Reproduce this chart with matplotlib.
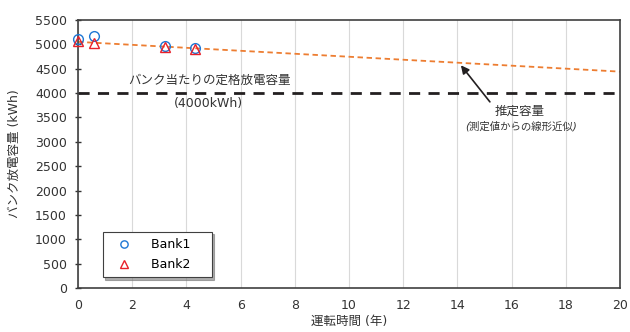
import numpy as np
import matplotlib.pyplot as plt

plt.rcParams['font.family'] = ['DejaVu Sans', 'Noto Sans CJK JP']

# measured capacity per bank
years_b1 = [0.0, 0.6, 3.2, 4.3]
cap_b1 = [5110, 5170, 4970, 4930]
years_b2 = [0.0, 0.6, 3.2, 4.3]
cap_b2 = [5075, 5020, 4940, 4905]

# linear estimate (intercept, slope per year)
fit_intercept = 5050
fit_slope = -30.5
fit_years = [0, 20]

rated_capacity = 4000

fig = plt.figure(figsize=(6.3, 3.32), dpi=100)
ax = fig.add_axes([0.124, 0.132, 0.86, 0.808])

fit_x = np.array(fit_years, dtype=float)
ax.plot(fit_x, fit_intercept + fit_slope * fit_x, ls=(0, (3, 2)), color='#ED7D31',
        lw=1.3, zorder=2)
ax.axhline(rated_capacity, color='#231f20', lw=2, ls=(0, (4, 3)), zorder=2)

ax.plot(years_b1, cap_b1, 'o', mfc='none', mec='#1f77d4', ms=7, mew=1.0,
        label='Bank1', zorder=3, clip_on=False)
ax.plot(years_b2, cap_b2, '^', mfc='none', mec='#e8202a', ms=7, mew=1.0,
        label='Bank2', zorder=3, clip_on=False)

ax.set_xlim(0, 20)
ax.set_ylim(0, 5500)
ax.set_xticks(range(0, 21, 2))
ax.set_yticks(range(0, 5501, 500))
ax.grid(axis='x', color='#d9d9d9', lw=0.8)
ax.set_axisbelow(True)
ax.tick_params(axis='x', labelsize=9, colors='#333333', length=0, pad=8)
ax.tick_params(axis='y', labelsize=9, colors='#333333', length=4,
               direction='inout', width=1, pad=6)
for s in ax.spines.values():
    s.set_color('#404040')
    s.set_linewidth(1.2)

ax.set_xlabel('運転時間 (年)', fontsize=9, labelpad=2, color='#333333')
ax.set_ylabel('バンク放電容量 (kWh)', fontsize=9, labelpad=10, color='#333333')

ax.text(4.85, 4270, 'バンク当たりの定格放電容量', ha='center', va='center',
        fontsize=9, color='#333333')
ax.text(4.8, 3790, '(4000kWh)', ha='center', va='center', fontsize=9, color='#333333')

ax.annotate('', xy=(14.13, 4570), xytext=(15.2, 3820),
            arrowprops=dict(arrowstyle='-|>', color='#231f20', lw=1.2,
                            mutation_scale=12, shrinkA=0, shrinkB=0))
ax.text(16.3, 3630, '推定容量', ha='center', va='center', fontsize=9, color='#333333')
ax.text(16.35, 3330, '(測定値からの線形近似)', ha='center', va='center', fontsize=7.5,
        style='italic', color='#333333')

leg = ax.legend(loc='lower left', bbox_to_anchor=(0.046, 0.04), fontsize=9,
                frameon=True, fancybox=False, edgecolor='#404040',
                borderpad=0.5, handletextpad=0.9, labelspacing=0.55,
                handlelength=2.4, borderaxespad=0, markerscale=0.75,
                shadow={'ox': 1.5, 'oy': -1.5, 'color': '#777777', 'alpha': 0.6})
leg.get_frame().set_linewidth(0.8)
leg.get_frame().set_alpha(1)
# widen the box a little past the labels
for t in leg.get_texts():
    t.set_text(t.get_text() + '    ')

fig.savefig('out.png', dpi=100)
